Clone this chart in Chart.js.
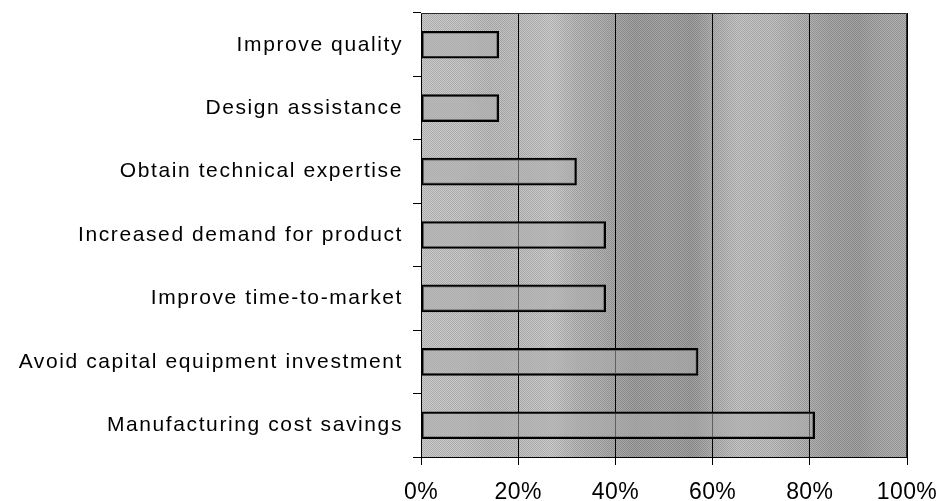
<!DOCTYPE html>
<html>
<head>
<meta charset="utf-8">
<script src="https://cdn.jsdelivr.net/npm/chart.js@4.4.1/dist/chart.umd.min.js"></script>
<style>
  html, body { margin: 0; padding: 0; background: #ffffff; }
  #wrap { width: 940px; height: 501px; position: relative; }
</style>
</head>
<body>
<div id="wrap"><canvas id="chart" width="940" height="501"></canvas></div>
<script>
// Reasons for outsourcing, share of respondents (%)
const categories = [
  'Improve quality',
  'Design assistance',
  'Obtain technical expertise',
  'Increased demand for product',
  'Improve time-to-market',
  'Avoid capital equipment investment',
  'Manufacturing cost savings'
];
const shares = [16, 16, 32, 38, 38, 57, 81];
const xTicks = [0, 20, 40, 60, 80, 100];

// Shaded plot background with soft vertical banding and a fine screen texture
const plotBackground = {
  id: 'plotBackground',
  beforeDraw(chart) {
    const { ctx, chartArea: a } = chart;
    const g = ctx.createLinearGradient(a.left, 0, a.right, 0);
    const stops = [
      [0.00, '#c4c4c4'], [0.08, '#c2c2c2'], [0.14, '#b8b8b8'], [0.22, '#bebebe'],
      [0.27, '#c6c6c6'], [0.32, '#b2b2b2'], [0.38, '#a6a6a6'], [0.44, '#969696'],
      [0.50, '#9c9c9c'], [0.56, '#959595'], [0.60, '#aaaaaa'], [0.65, '#bebebe'],
      [0.72, '#bababa'], [0.78, '#adadad'], [0.84, '#9e9e9e'], [0.90, '#989898'],
      [0.95, '#a4a4a4'], [1.00, '#a8a8a8']
    ];
    stops.forEach(([o, c]) => g.addColorStop(o, c));
    ctx.save();
    ctx.fillStyle = g;
    ctx.fillRect(a.left, a.top, a.right - a.left, a.bottom - a.top);
    // fine checker texture
    const tile = document.createElement('canvas');
    tile.width = 2; tile.height = 2;
    const t = tile.getContext('2d');
    t.fillStyle = 'rgba(0,0,0,0.12)';
    t.fillRect(0, 0, 1, 1); t.fillRect(1, 1, 1, 1);
    t.fillStyle = 'rgba(255,255,255,0.12)';
    t.fillRect(1, 0, 1, 1); t.fillRect(0, 1, 1, 1);
    ctx.fillStyle = ctx.createPattern(tile, 'repeat');
    ctx.fillRect(a.left, a.top, a.right - a.left, a.bottom - a.top);
    ctx.restore();
  },
  afterDatasetsDraw(chart) {
    // top and right frame of the plot area
    const { ctx, chartArea: a } = chart;
    ctx.save();
    ctx.strokeStyle = '#2a2a2a';
    ctx.lineWidth = 1;
    ctx.beginPath();
    ctx.moveTo(a.left, a.top + 0.5);
    ctx.lineTo(a.right - 0.5, a.top + 0.5);
    ctx.lineTo(a.right - 0.5, a.bottom);
    ctx.stroke();
    ctx.restore();
  }
};

// Per-axis letter spacing for tick labels
const labelSpacing = {
  id: 'labelSpacing',
  beforeDraw(chart) {
    [['y', '1.6px'], ['x', '0.4px']].forEach(([id, sp]) => {
      const s = chart.scales[id];
      if (s && !s._spacedLabels) {
        const orig = s.drawLabels.bind(s);
        s.drawLabels = (area) => {
          const c = chart.ctx;
          c.save();
          c.letterSpacing = sp;
          orig(area);
          c.restore();
        };
        s._spacedLabels = true;
      }
    });
  }
};

new Chart(document.getElementById('chart'), {
  type: 'bar',
  data: {
    labels: categories,
    datasets: [{
      data: shares,
      backgroundColor: 'rgba(175,175,175,0.55)',
      borderColor: '#000000',
      borderWidth: 2,
      borderSkipped: false,
      barThickness: 27
    }]
  },
  options: {
    indexAxis: 'y',
    responsive: false,
    animation: false,
    devicePixelRatio: 1,
    layout: { padding: { top: 13, right: 33, bottom: 0, left: 0 } },
    plugins: { legend: { display: false }, tooltip: { enabled: false } },
    scales: {
      x: {
        min: 0,
        max: 100,
        afterBuildTicks(scale) { scale.ticks = xTicks.map(v => ({ value: v })); },
        afterFit(scale) {
          scale.height = 44;
          scale.paddingLeft = 0;
          scale.paddingRight = 0;
        },
        ticks: {
          callback: v => v + '%',
          color: '#000000',
          padding: 14,
          maxRotation: 0,
          font: { family: '"Liberation Sans", Arial, sans-serif', size: 23 }
        },
        grid: { color: '#000000', lineWidth: 1, tickLength: 8, drawOnChartArea: true },
        border: { display: true, color: '#000000', width: 1 }
      },
      y: {
        afterFit(scale) {
          scale.width = 421;
          scale.paddingTop = 0;
          scale.paddingBottom = 0;
        },
        ticks: {
          color: '#000000',
          padding: 10,
          font: { family: '"Liberation Sans", Arial, sans-serif', size: 21 }
        },
        grid: { display: true, drawOnChartArea: false, offset: true, tickLength: 8, color: '#000000', lineWidth: 1 },
        border: { display: true, color: '#000000', width: 1 }
      }
    }
  },
  plugins: [plotBackground, labelSpacing]
});
</script>
</body>
</html>
